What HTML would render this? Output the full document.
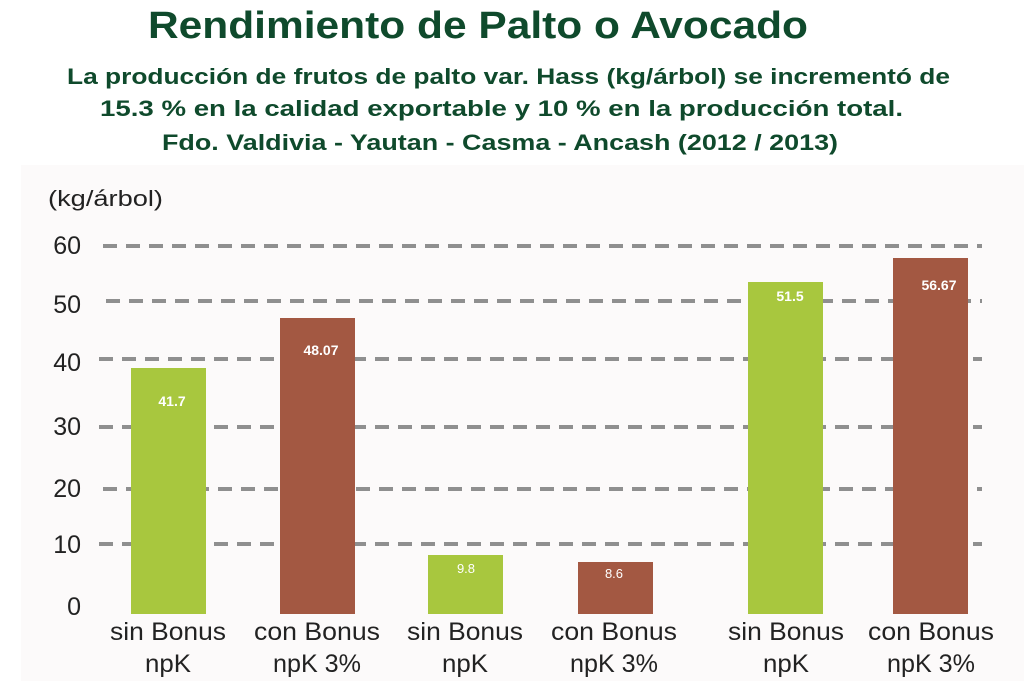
<!DOCTYPE html>
<html><head><meta charset="utf-8"><style>
body{margin:0;width:1024px;height:681px;background:#fff;overflow:hidden;font-family:"Liberation Sans",sans-serif}
</style></head><body>
<svg width="1024" height="681" xmlns="http://www.w3.org/2000/svg" font-family="Liberation Sans, sans-serif">
<rect x="21" y="165" width="1003" height="516" fill="#fcfafa"/>
<text x="148" y="38" textLength="660" lengthAdjust="spacingAndGlyphs" font-size="38" font-weight="bold" fill="#0f4a2c">Rendimiento de Palto o Avocado</text>
<g font-size="22" font-weight="bold" fill="#0f4a2c">
<text x="67" y="84" textLength="883" lengthAdjust="spacingAndGlyphs">La producción de frutos de palto var. Hass (kg/árbol) se incrementó de</text>
<text x="100" y="116" textLength="803" lengthAdjust="spacingAndGlyphs">15.3 % en la calidad exportable y 10 % en la producción total.</text>
<text x="162" y="150" textLength="676" lengthAdjust="spacingAndGlyphs">Fdo. Valdivia - Yautan - Casma - Ancash (2012 / 2013)</text>
</g>
<text x="48" y="206" font-size="22" fill="#222" textLength="115" lengthAdjust="spacingAndGlyphs">(kg/árbol)</text>
<g stroke="#8f8f8f" stroke-width="4" stroke-dasharray="14,9">
<line x1="103" y1="246" x2="982" y2="246"/>
<line x1="106" y1="301" x2="982" y2="301"/>
<line x1="99" y1="359" x2="982" y2="359"/>
<line x1="99" y1="427" x2="982" y2="427"/>
<line x1="103" y1="489" x2="982" y2="489"/>
<line x1="99" y1="544" x2="982" y2="544"/>
</g>
<g font-size="25" fill="#222" text-anchor="end">
<text x="81" y="254">60</text><text x="81" y="313">50</text><text x="81" y="371">40</text>
<text x="81" y="435">30</text><text x="81" y="497">20</text><text x="81" y="553">10</text><text x="81" y="615">0</text>
</g>
<rect x="131" y="368" width="75" height="246" fill="#a8c73e"/>
<rect x="280" y="318" width="75" height="296" fill="#a35842"/>
<rect x="428" y="555" width="75" height="59" fill="#a8c73e"/>
<rect x="578" y="562" width="75" height="52" fill="#a35842"/>
<rect x="748" y="282" width="75" height="332" fill="#a8c73e"/>
<rect x="893" y="258" width="75" height="356" fill="#a35842"/>
<g font-size="14" font-weight="bold" fill="#fff" text-anchor="middle">
<text x="172" y="406">41.7</text><text x="321" y="355">48.07</text>
<text x="790" y="301">51.5</text><text x="939" y="290">56.67</text>
</g>
<g font-size="13" fill="#fff" text-anchor="middle">
<text x="466" y="573">9.8</text><text x="614" y="578">8.6</text>
</g>
<g font-size="25" fill="#222" text-anchor="middle">
<text x="168" y="640" textLength="116" lengthAdjust="spacingAndGlyphs">sin Bonus</text><text x="168" y="672" textLength="46" lengthAdjust="spacingAndGlyphs">npK</text>
<text x="317" y="640" textLength="126" lengthAdjust="spacingAndGlyphs">con Bonus</text><text x="317" y="672" textLength="88" lengthAdjust="spacingAndGlyphs">npK 3%</text>
<text x="465" y="640" textLength="116" lengthAdjust="spacingAndGlyphs">sin Bonus</text><text x="465" y="672" textLength="46" lengthAdjust="spacingAndGlyphs">npK</text>
<text x="614" y="640" textLength="126" lengthAdjust="spacingAndGlyphs">con Bonus</text><text x="614" y="672" textLength="88" lengthAdjust="spacingAndGlyphs">npK 3%</text>
<text x="786" y="640" textLength="116" lengthAdjust="spacingAndGlyphs">sin Bonus</text><text x="786" y="672" textLength="46" lengthAdjust="spacingAndGlyphs">npK</text>
<text x="931" y="640" textLength="126" lengthAdjust="spacingAndGlyphs">con Bonus</text><text x="931" y="672" textLength="88" lengthAdjust="spacingAndGlyphs">npK 3%</text>
</g>
</svg>
</body></html>
